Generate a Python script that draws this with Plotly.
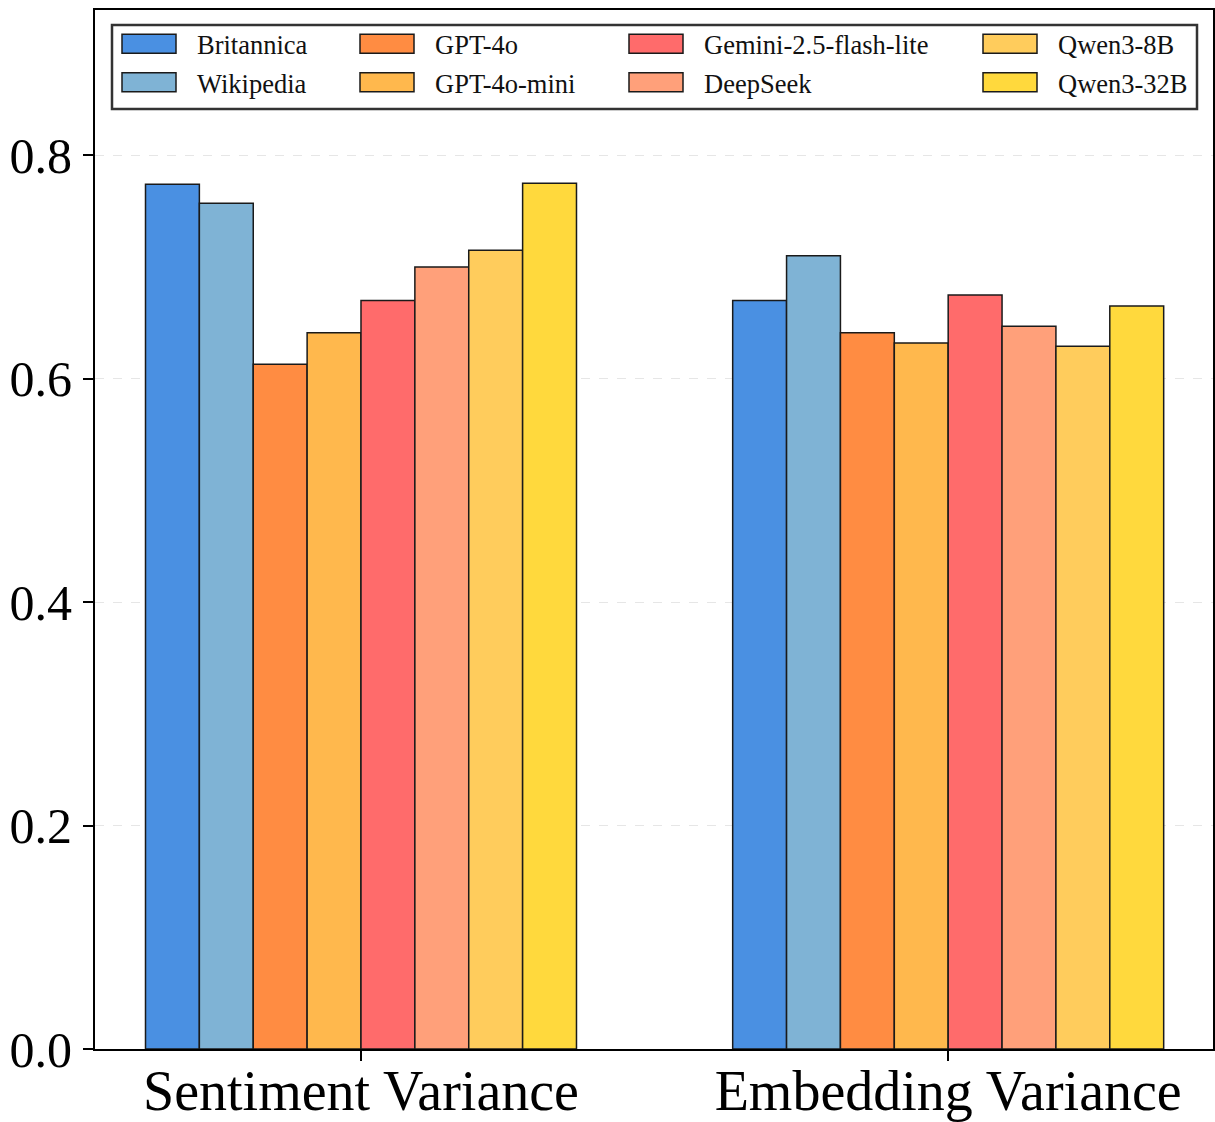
import plotly.graph_objects as go

categories = ["Sentiment Variance", "Embedding Variance"]
series_names = ["Britannica", "Wikipedia", "GPT-4o", "GPT-4o-mini",
                "Gemini-2.5-flash-lite", "DeepSeek", "Qwen3-8B", "Qwen3-32B"]
britannica = [0.774, 0.670]
wikipedia = [0.757, 0.710]
gpt4o = [0.613, 0.641]
gpt4o_mini = [0.641, 0.632]
gemini = [0.670, 0.675]
deepseek = [0.700, 0.647]
qwen3_8b = [0.715, 0.629]
qwen3_32b = [0.775, 0.665]
y_ticks = [0.0, 0.2, 0.4, 0.6, 0.8]

colors = ["#4A90E2", "#7FB3D5", "#FF8C42", "#FFB84D",
          "#FF6B6B", "#FFA07A", "#FFCC5C", "#FFD93D"]
values = [britannica, wikipedia, gpt4o, gpt4o_mini, gemini, deepseek, qwen3_8b, qwen3_32b]
legend_ids = ["legend", "legend", "legend2", "legend2", "legend3", "legend3", "legend4", "legend4"]

FONT = "Liberation Serif"
fig = go.Figure()
for name, vals, col, lg in zip(series_names, values, colors, legend_ids):
    fig.add_trace(go.Bar(
        x=categories, y=vals, name=name, legend=lg, legendgroup=name,
        marker=dict(color=col, line=dict(color="#1a1a1a", width=1.5)),
    ))

W, H = 1215, 1122
L, R, T, B = 95, 2, 10, 73
pw, ph = W - L - R, H - T - B

def px_x(p):
    return (p - L) / pw

def px_y(p):
    return (H - B - p) / ph

legend_common = dict(
    orientation="v", xanchor="left", yanchor="top",
    bgcolor="rgba(0,0,0,0)", borderwidth=0,
    font=dict(family=FONT, size=26.5, color="#111"),
    itemwidth=70, tracegroupgap=1,
)
col_x = [117, 355, 624, 978]
lg_keys = ["legend", "legend2", "legend3", "legend4"]
legend_layout = {}
for k, cx in zip(lg_keys, col_x):
    legend_layout[k] = dict(legend_common, x=px_x(cx), y=px_y(20))

fig.update_layout(
    width=W, height=H,
    margin=dict(l=L, r=R, t=T, b=B, autoexpand=False),
    paper_bgcolor="white", plot_bgcolor="white",
    barmode="group", bargap=0.266, bargroupgap=0,
    showlegend=True,
    font=dict(family=FONT, color="black"),
    **legend_layout,
)
fig.update_xaxes(
    range=[-0.453, 1.451], automargin=False,
    showline=True, linecolor="black", linewidth=2, mirror=True,
    ticks="outside", ticklen=10, tickwidth=2, tickcolor="black",
    tickfont=dict(family=FONT, size=56, color="black"),
    ticklabelstandoff=-18,
    showgrid=False,
)
fig.update_yaxes(
    range=[0, 0.93], automargin=False,
    tickvals=y_ticks, tickformat=".1f",
    showline=True, linecolor="black", linewidth=2, mirror=True,
    ticks="outside", ticklen=10, tickwidth=2, tickcolor="black",
    tickfont=dict(family=FONT, size=50, color="black"),
    ticklabelstandoff=1,
    showgrid=True, gridcolor="#e6e6e6", griddash="dash", gridwidth=1,
    zeroline=False,
)
# legend frame
fig.add_shape(type="rect", xref="paper", yref="paper",
              x0=px_x(112), x1=px_x(1197), y0=px_y(109), y1=px_y(25),
              line=dict(color="#333333", width=2.5), fillcolor="rgba(0,0,0,0)",
              layer="above")

# remove page margin and widen the legend swatches to match the reference's patches
post_js = """
document.body.style.margin = '0';
var gd = document.getElementsByClassName('plotly-graph-div')[0];
function widen(){
  gd.querySelectorAll('.legendpoints path').forEach(function(p){
    p.setAttribute('d', 'M19,9.5H-35V-9.5H19Z');
  });
}
widen();
gd.on('plotly_afterplot', widen);
"""

fig.write_html("out.html", post_script=post_js, config={"displayModeBar": False})
